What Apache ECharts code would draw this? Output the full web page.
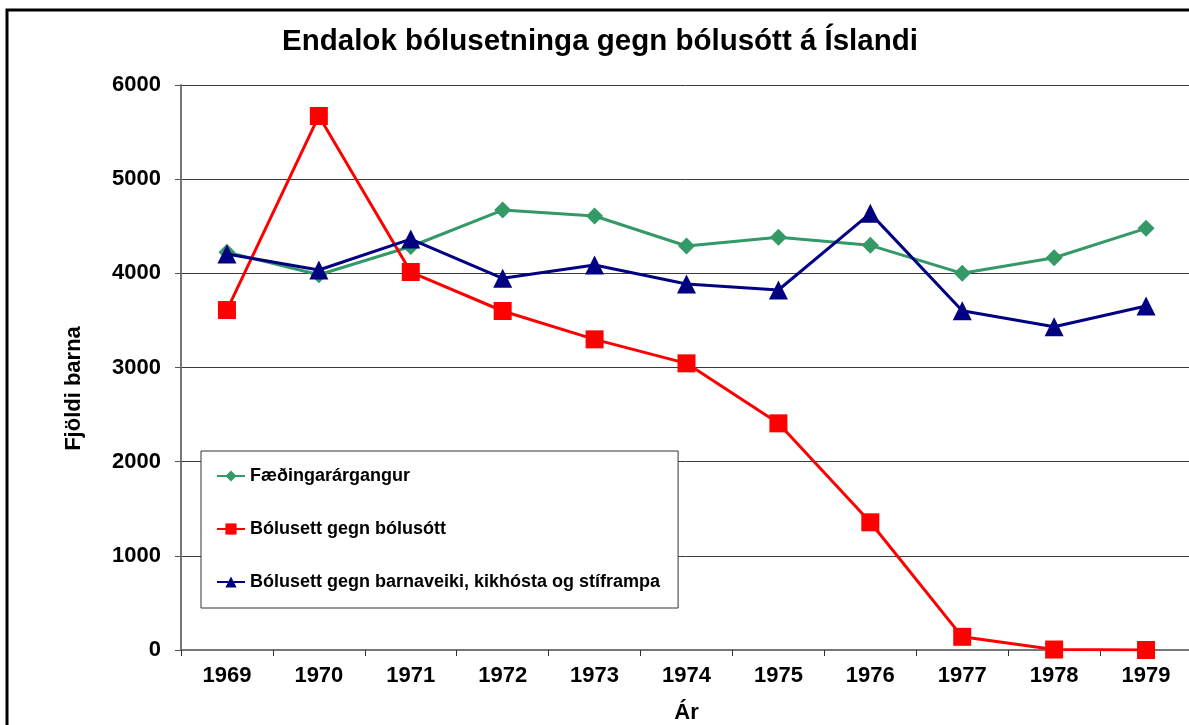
<!DOCTYPE html>
<html>
<head>
	<meta charset="utf-8">
	<title>Endalok bólusetninga gegn bólusótt á Íslandi</title>
	<script src="https://cdn.jsdelivr.net/npm/echarts@6/dist/echarts.min.js"></script>
	<style>
		html, body { margin: 0; padding: 0; background: #fff; }
	</style>
</head>
<body>
	<div id="main" style="width: 1189px;height: 725px;"></div>
</body>
<script type="text/javascript">
	// ár
	var years = ['1969', '1970', '1971', '1972', '1973', '1974', '1975', '1976', '1977', '1978', '1979'];
	// Fæðingarárgangur
	var births = [4225, 3985, 4285, 4672, 4609, 4290, 4382, 4297, 4000, 4166, 4478];
	// Bólusett gegn bólusótt
	var smallpox = [3610, 5671, 4014, 3600, 3299, 3044, 2407, 1356, 140, 5, 0];
	// Bólusett gegn barnaveiki, kikhósta og stíframpa
	var dtp = [4205, 4035, 4364, 3947, 4088, 3887, 3823, 4637, 3603, 3433, 3653];
	var yTicks = [0, 1000, 2000, 3000, 4000, 5000, 6000];

	var font = 'Liberation Sans, Arial, sans-serif';
	var myChart = echarts.init(document.getElementById('main'));

	var option = {
		backgroundColor: '#fff',
		animation: false,
		textStyle: { fontFamily: font },
		title: {
			text: 'Endalok bólusetninga gegn bólusótt á Íslandi',
			left: 595,
			textAlign: 'center',
			top: 22,
			textStyle: { fontFamily: font, fontSize: 29.5, fontWeight: 'bold', color: '#000' }
		},
		//ramminn
		graphic: [{
			type: 'rect',
			shape: { x: 7, y: 10, width: 1300, height: 800 },
			style: { fill: 'none', stroke: '#000', lineWidth: 3 },
			silent: true
		}],
		legend: {
			orient: 'vertical',
			left: 201,
			top: 451,
			itemWidth: 28,
			itemHeight: 14,
			itemGap: 35,
			padding: [16, 18, 17, 15],
			backgroundColor: '#fff',
			borderColor: '#333',
			borderWidth: 1,
			textStyle: { fontFamily: font, fontSize: 18, fontWeight: 'bold', color: '#000' },
			data: ['Fæðingarárgangur', 'Bólusett gegn bólusótt', 'Bólusett gegn barnaveiki, kikhósta og stíframpa']
		},
		grid: { left: 181, top: 85, width: 1011, height: 565, containLabel: false, outerBoundsMode: 'none' },
		xAxis: {
			type: 'category',
			data: years,
			boundaryGap: true,
			name: 'Ár',
			nameLocation: 'middle',
			nameGap: 52,
			nameTextStyle: { fontFamily: font, fontSize: 22, fontWeight: 'bold', color: '#000' },
			axisLine: { lineStyle: { color: '#777', width: 2 } },
			axisTick: { show: true, length: 6, lineStyle: { color: '#333' } },
			axisLabel: { fontFamily: font, fontSize: 22, fontWeight: 'bold', color: '#000', margin: 15 },
			splitLine: { show: false }
		},
		yAxis: {
			type: 'value',
			min: yTicks[0],
			max: yTicks[yTicks.length - 1],
			interval: 1000,
			name: 'Fjöldi barna',
			nameLocation: 'middle',
			nameRotate: 90,
			nameGap: 96,
			nameTextStyle: { fontFamily: font, fontSize: 22, fontWeight: 'bold', color: '#000', padding: [0, 42, 0, 0] },
			axisLine: { show: true, lineStyle: { color: '#777', width: 2 } },
			axisTick: { show: true, length: 6, lineStyle: { color: '#555' } },
			axisLabel: {
				fontFamily: font, fontSize: 22, fontWeight: 'bold', color: '#000', margin: 20,
				formatter: function (v) { return String(v); }
			},
			splitLine: { show: true, lineStyle: { color: '#3a3a3a', width: 1 } }
		},
		series: [{
			name: 'Fæðingarárgangur',
			type: 'line',
			data: births,
			symbol: 'diamond',
			symbolSize: 17,
			lineStyle: { color: '#339966', width: 3 },
			itemStyle: { color: '#339966' },
			z: 2
		}, {
			name: 'Bólusett gegn bólusótt',
			type: 'line',
			data: smallpox,
			symbol: 'rect',
			symbolSize: 18,
			lineStyle: { color: '#ff0000', width: 3 },
			itemStyle: { color: '#ff0000' },
			z: 3
		}, {
			name: 'Bólusett gegn barnaveiki, kikhósta og stíframpa',
			type: 'line',
			data: dtp,
			symbol: 'triangle',
			symbolSize: 19,
			lineStyle: { color: '#000080', width: 3 },
			itemStyle: { color: '#000080' },
			z: 4
		}]
	};
	myChart.setOption(option);
</script>
</html>
